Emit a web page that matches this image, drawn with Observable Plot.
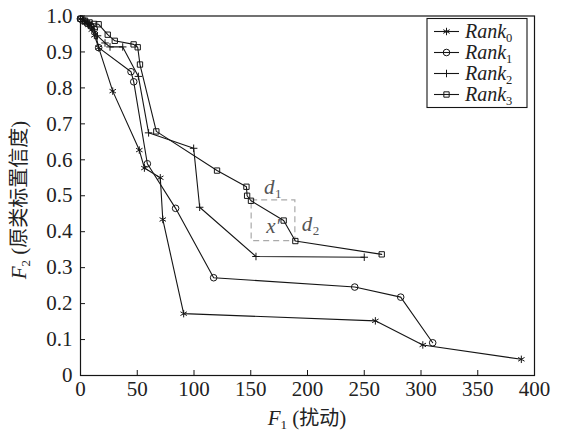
<!DOCTYPE html>
<html><head><meta charset="utf-8">
<script src="https://cdn.jsdelivr.net/npm/d3@7"></script>
<script src="https://cdn.jsdelivr.net/npm/@observablehq/plot@0.6"></script>
<style>
body{margin:0;background:#fff}
#chart svg{font-family:"Liberation Serif","DejaVu Serif",serif !important;}
</style>
</head><body><div id="chart"></div>
<script>
// ---- data ----
const seriesNames = ["Rank0", "Rank1", "Rank2", "Rank3"];
const seriesSubs = ["0", "1", "2", "3"];
const seriesSymbols = ["asterisk", "circle", "plus", "square"];

const rank0X = [0, 2, 4, 7, 10, 12.2, 16, 28.4, 51.8, 56.3, 70.3, 72.5, 90.9, 259.8, 301.6, 388.4];
const rank0Y = [0.992, 0.987, 0.982, 0.975, 0.962, 0.946, 0.912, 0.791, 0.627, 0.577, 0.55, 0.434, 0.172, 0.152, 0.085, 0.045];

const rank1X = [0, 3, 6, 9, 12.2, 16, 44.5, 46.9, 58.9, 83.8, 117.3, 241.6, 282.1, 310.3];
const rank1Y = [0.992, 0.986, 0.98, 0.972, 0.964, 0.912, 0.845, 0.817, 0.589, 0.465, 0.272, 0.246, 0.218, 0.091];

const rank2X = [0, 4, 8, 12, 15, 21.6, 26, 37.2, 51, 60, 99.7, 105, 154.6, 250];
const rank2Y = [0.992, 0.985, 0.977, 0.963, 0.945, 0.925, 0.914, 0.914, 0.832, 0.675, 0.632, 0.468, 0.331, 0.329];

const rank3X = [0, 4, 8, 12, 16, 24, 30.2, 46.8, 50.4, 52.4, 66.8, 120.3, 146.2, 146.8, 150.2, 179, 189.3, 265.4];
const rank3Y = [0.992, 0.987, 0.982, 0.978, 0.977, 0.948, 0.931, 0.921, 0.913, 0.865, 0.679, 0.57, 0.525, 0.5, 0.486, 0.431, 0.374, 0.337];

const xTicks = [0, 50, 100, 150, 200, 250, 300, 350, 400];
const yTicks = [0, 0.1, 0.2, 0.3, 0.4, 0.5, 0.6, 0.7, 0.8, 0.9, 1.0];
const yTickLabels = ["0", "0.1", "0.2", "0.3", "0.4", "0.5", "0.6", "0.7", "0.8", "0.9", "1.0"];

const boxX = [150.8, 189.3];
const boxY = [0.374, 0.487];

const annoMain = ["d", "x\u2032", "d"];
const annoX = [161.7, 163.6, 194.9];
const annoY = [0.506, 0.395, 0.403];
const subText = ["1", "2"];
const subX = [161.7, 194.9];
const subY = [0.506, 0.403];

const xTitleMain = "F", xTitleSub = "1", xTitleCJK = "扰动";
const yTitleMain = "F", yTitleSub = "2", yTitleCJK = "原类标置信度";

// ---- build table ----
const allX = [rank0X, rank1X, rank2X, rank3X];
const allY = [rank0Y, rank1Y, rank2Y, rank3Y];
const table = [];
seriesNames.forEach((s, i) => allX[i].forEach((x, j) => table.push({series: s, x, y: allY[i][j]})));
const markerR = [3.5, 3.3, 2.55, 3.0];

const serif = "Liberation Serif, DejaVu Serif, serif";
const cjk = "Noto Sans CJK SC, sans-serif";
const ink = "#151515";

const chart = Plot.plot({
  width: 562, height: 432,
  marginLeft: 80, marginRight: 28, marginTop: 15.5, marginBottom: 57,
  x: {domain: [0, 400]},
  y: {domain: [0, 1]},
  style: {fontFamily: serif, fontSize: "21px", color: "#222", background: "white", overflow: "visible"},
  marks: [
    Plot.axisX({ticks: xTicks, tickSize: 0, tickPadding: 6, tickFormat: d => String(d), label: null}),
    Plot.axisX({ticks: xTicks, tickSize: -5, tickFormat: () => "", label: null, stroke: ink}),
    Plot.axisY({ticks: yTicks, tickSize: 0, tickPadding: 8, tickFormat: (d, i) => yTickLabels[i], label: null}),
    Plot.axisY({ticks: yTicks, tickSize: -5, tickFormat: () => "", label: null, stroke: ink}),
    Plot.rect([{x1: boxX[0], x2: boxX[1], y1: boxY[0], y2: boxY[1]}],
      {x1: "x1", x2: "x2", y1: "y1", y2: "y2", fill: "none", stroke: "#aaa", strokeWidth: 1.2, strokeDasharray: "6,4"}),
    Plot.line(table, {x: "x", y: "y", z: "series", stroke: ink, strokeWidth: 1.1}),
    ...seriesNames.map((s, i) => Plot.dot(table.filter(d => d.series === s),
      {x: "x", y: "y", symbol: seriesSymbols[i], r: markerR[i], fill: "none", stroke: ink, strokeWidth: 1})),
    Plot.text(annoMain.map((t, i) => ({t, x: annoX[i], y: annoY[i]})),
      {x: "x", y: "y", text: "t", textAnchor: "start", lineAnchor: "bottom", fill: "#555", fontStyle: "italic", fontSize: 21}),
    Plot.text(subText.map((t, i) => ({t, x: subX[i], y: subY[i]})),
      {x: "x", y: "y", text: "t", textAnchor: "start", lineAnchor: "bottom", fill: "#555", fontSize: 13, dx: 11, dy: 4}),
    Plot.frame({stroke: ink, strokeWidth: 1.2})
  ]
});

document.getElementById("chart").appendChild(chart);
const svg = d3.select(chart);

function richTitle(g, main, sub, cjkText, size, cjkSize) {
  const t = g.append("text").attr("text-anchor", "middle").attr("fill", "#222");
  t.append("tspan").attr("font-family", serif).attr("font-style", "italic").attr("font-size", size).text(main);
  t.append("tspan").attr("font-family", serif).attr("font-size", size * 0.62).attr("dy", 4).text(sub);
  t.append("tspan").attr("font-family", serif).attr("font-size", size).attr("dy", -4).text(" (");
  t.append("tspan").attr("font-family", cjk).attr("font-size", cjkSize).text(cjkText);
  t.append("tspan").attr("font-family", serif).attr("font-size", size).text(")");
}
richTitle(svg.append("g").attr("transform", "translate(307,425)"), xTitleMain, xTitleSub, xTitleCJK, 21, 20);
richTitle(svg.append("g").attr("transform", "translate(26,200) rotate(-90)"), yTitleMain, yTitleSub, yTitleCJK, 21, 20);

// legend
const lg = svg.append("g").attr("transform", "translate(427,18.5)");
lg.append("rect").attr("width", 100).attr("height", 89).attr("fill", "white").attr("stroke", ink).attr("stroke-width", 1.1);
const d3sym = {asterisk: d3.symbolAsterisk, circle: d3.symbolCircle, plus: d3.symbolPlus, square: d3.symbolSquare};
seriesNames.forEach((s, i) => {
  const y = 13 + i * 21;
  lg.append("line").attr("x1", 7).attr("x2", 32).attr("y1", y).attr("y2", y).attr("stroke", ink).attr("stroke-width", 1.1);
  lg.append("path").attr("transform", `translate(19.5,${y})`)
    .attr("d", d3.symbol(d3sym[seriesSymbols[i]], Math.PI * markerR[i] * markerR[i])())
    .attr("fill", "none").attr("stroke", ink).attr("stroke-width", 1);
  const t = lg.append("text").attr("x", 38).attr("y", y + 6.5).attr("text-anchor", "start")
    .attr("fill", "#222").attr("font-family", serif);
  t.append("tspan").attr("font-style", "italic").attr("font-size", 20).text(s.slice(0, 4));
  t.append("tspan").attr("font-size", 12.5).attr("dy", 4).text(seriesSubs[i]);
});
</script>
</body></html>
